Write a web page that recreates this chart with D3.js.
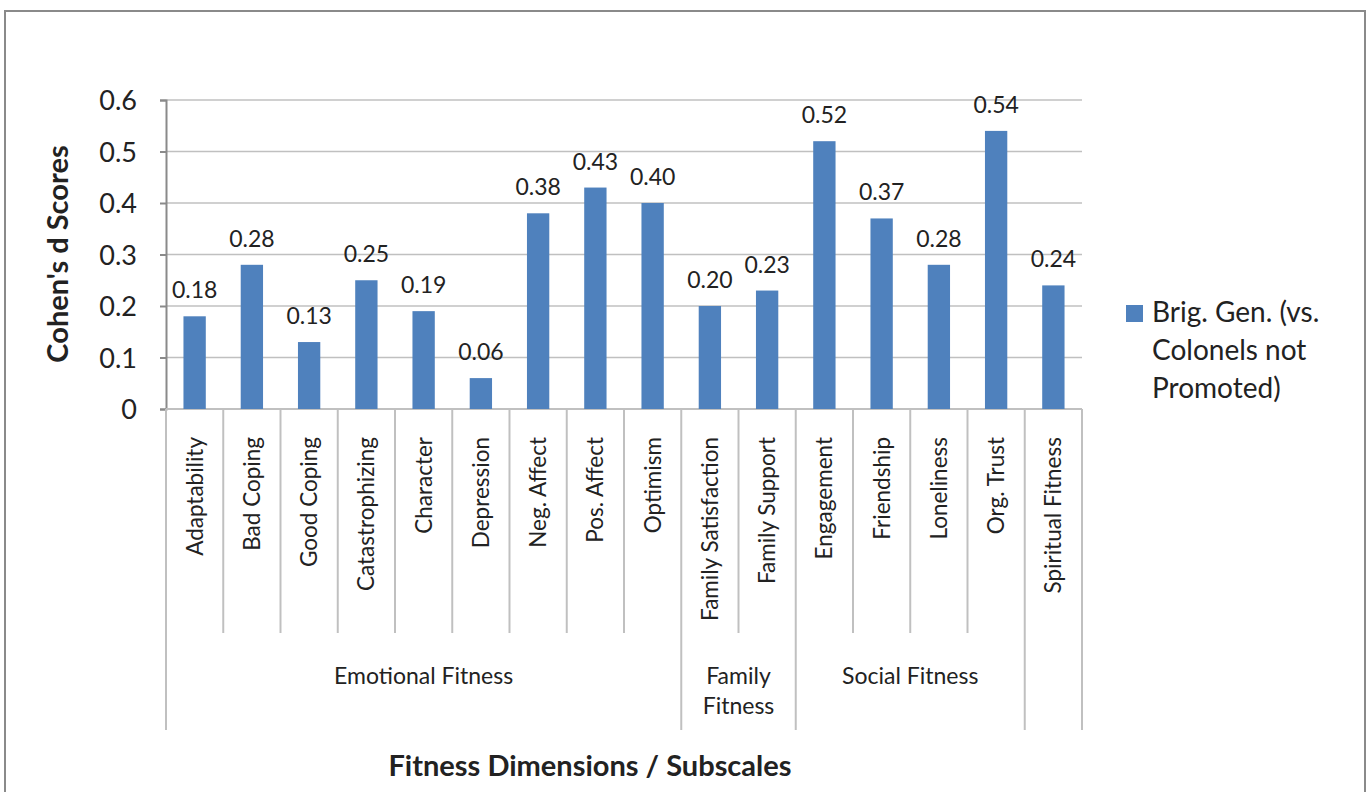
<!DOCTYPE html>
<html>
<head>
<meta charset="utf-8">
<script src="https://cdn.jsdelivr.net/npm/d3@7"></script>
<style>
  html, body { margin: 0; padding: 0; background: #fff; }
  svg { display: block; font-family: Lato, "Open Sans", sans-serif; }
</style>
</head>
<body>
<svg id="chart" width="1368" height="792"></svg>
<script>
// Subscale names, in plotting order
const subscales = [
  "Adaptability", "Bad Coping", "Good Coping", "Catastrophizing", "Character",
  "Depression", "Neg. Affect", "Pos. Affect", "Optimism",
  "Family Satisfaction", "Family Support",
  "Engagement", "Friendship", "Loneliness", "Org. Trust",
  "Spiritual Fitness"
];
// Cohen's d for Brig. Gen. vs. Colonels not promoted
const cohensD = [0.18, 0.28, 0.13, 0.25, 0.19, 0.06, 0.38, 0.43, 0.40,
                 0.20, 0.23, 0.52, 0.37, 0.28, 0.54, 0.24];
// Fitness dimensions grouping the subscales
const groupNames = ["Emotional Fitness", "Family\nFitness", "Social Fitness", ""];
const groupSizes = [9, 2, 4, 1];
const yTicks = [0, 0.1, 0.2, 0.3, 0.4, 0.5, 0.6];
const seriesName = ["Brig. Gen. (vs.", "Colonels not", "Promoted)"];

const svg = d3.select("#chart");
const plot = { left: 166, right: 1082, top: 100, bottom: 409 };
const barColor = "#4f81bd";
const textColor = "#222222";
const gridColor = "#c0c0c0";

// outer chart frame
svg.append("rect")
  .attr("x", 5).attr("y", 11).attr("width", 1360).attr("height", 800)
  .attr("fill", "none").attr("stroke", "#8a8a8a").attr("stroke-width", 2);

const x = d3.scaleBand().domain(subscales).range([plot.left, plot.right]).padding(0);
const y = d3.scaleLinear().domain([0, 0.6]).range([plot.bottom, plot.top]);

// horizontal gridlines
svg.append("g").selectAll("line").data(yTicks.filter(d => d > 0)).join("line")
  .attr("x1", plot.left).attr("x2", plot.right)
  .attr("y1", d => y(d)).attr("y2", d => y(d))
  .attr("stroke", gridColor).attr("stroke-width", 1.5);

// y axis
const yAxis = svg.append("g")
  .attr("transform", `translate(${plot.left},0)`)
  .call(d3.axisLeft(y).tickValues(yTicks).tickFormat(d => d === 0 ? "0" : d3.format(".1f")(d))
        .tickSize(6).tickPadding(23));
yAxis.select(".domain").attr("stroke", "#8a8a8a").attr("stroke-width", 2);
yAxis.selectAll(".tick line").attr("stroke", "#8a8a8a").attr("stroke-width", 2);
yAxis.selectAll(".tick text").attr("fill", textColor)
  .style("font-size", "27px").style("font-family", "Lato, sans-serif").attr("dy", "0.36em");

// category axis baseline
svg.append("line")
  .attr("x1", plot.left).attr("x2", plot.right)
  .attr("y1", plot.bottom).attr("y2", plot.bottom)
  .attr("stroke", gridColor).attr("stroke-width", 2);

// category separators: short ones between subscales, long ones between dimensions
const groupEnds = d3.cumsum(groupSizes);
const boundaries = d3.range(subscales.length + 1);
svg.append("g").selectAll("line").data(boundaries).join("line")
  .attr("x1", i => plot.left + i * x.bandwidth())
  .attr("x2", i => plot.left + i * x.bandwidth())
  .attr("y1", plot.bottom)
  .attr("y2", i => (i === 0 || groupEnds.includes(i)) ? 730 : 633)
  .attr("stroke", gridColor).attr("stroke-width", 2);

// bars
const barW = x.bandwidth() * 0.39;
svg.append("g").selectAll("rect").data(subscales).join("rect")
  .attr("x", (d) => x(d) + (x.bandwidth() - barW) / 2)
  .attr("width", barW)
  .attr("y", (d, i) => y(cohensD[i]))
  .attr("height", (d, i) => plot.bottom - y(cohensD[i]))
  .attr("fill", barColor);

// value labels
svg.append("g").selectAll("text").data(subscales).join("text")
  .attr("x", d => x(d) + x.bandwidth() / 2)
  .attr("y", (d, i) => y(cohensD[i]) - 18)
  .attr("text-anchor", "middle")
  .attr("fill", textColor)
  .style("font-size", "23px")
  .text((d, i) => d3.format(".2f")(cohensD[i]));

// subscale labels (rotated)
svg.append("g").selectAll("text").data(subscales).join("text")
  .attr("transform", d => `translate(${x(d) + x.bandwidth() / 2},437) rotate(-90)`)
  .attr("text-anchor", "end")
  .attr("dy", "0.35em")
  .attr("fill", textColor)
  .style("font-size", "22.5px")
  .text(d => d);

// dimension labels
const groupStarts = [0, ...groupEnds.slice(0, -1)];
const gl = svg.append("g").selectAll("text").data(groupNames).join("text")
  .attr("x", (d, i) => plot.left + (groupStarts[i] + groupSizes[i] / 2) * x.bandwidth())
  .attr("y", 684)
  .attr("text-anchor", "middle")
  .attr("fill", textColor)
  .style("font-size", "23px");
gl.each(function(d) {
  const lines = d.split("\n");
  d3.select(this).selectAll("tspan").data(lines).join("tspan")
    .attr("x", d3.select(this).attr("x"))
    .attr("dy", (l, j) => j === 0 ? 0 : 30)
    .text(l => l);
});

// axis titles
svg.append("text")
  .attr("x", 590).attr("y", 776)
  .attr("text-anchor", "middle")
  .attr("fill", textColor)
  .style("font-size", "29px").style("font-weight", "bold")
  .text("Fitness Dimensions / Subscales");

svg.append("text")
  .attr("transform", "translate(68,254) rotate(-90)")
  .attr("text-anchor", "middle")
  .attr("fill", textColor)
  .style("font-size", "29px").style("font-weight", "bold")
  .text("Cohen's d Scores");

// legend
const legend = svg.append("g");
legend.append("rect")
  .attr("x", 1126).attr("y", 305).attr("width", 17).attr("height", 17)
  .attr("fill", barColor);
legend.append("text")
  .attr("fill", textColor)
  .style("font-size", "28px")
  .selectAll("tspan").data(seriesName).join("tspan")
  .attr("x", 1152)
  .attr("y", (d, i) => 322 + i * 38)
  .text(d => d);
</script>
</body>
</html>
